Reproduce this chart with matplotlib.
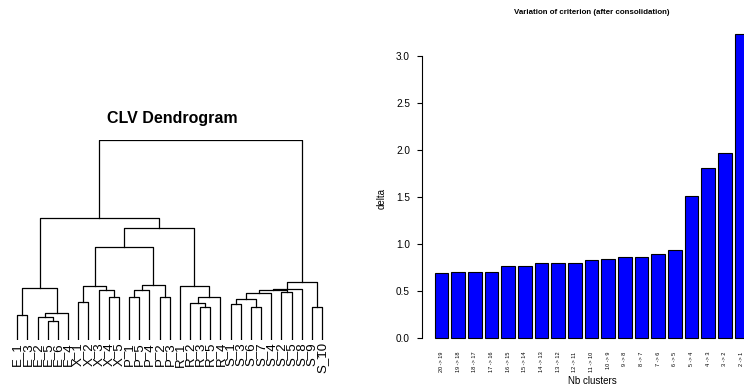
import numpy as np
import matplotlib.pyplot as plt

plt.rcParams['font.family'] = ['Liberation Sans', 'DejaVu Sans']

# --- DATA
leaves = ['E_1', 'E_3', 'E_2', 'E_5', 'E_6', 'E_4',
          'X_1', 'X_2', 'X_3', 'X_4', 'X_5',
          'P_1', 'P_5', 'P_4', 'P_2', 'P_3',
          'R_1', 'R_2', 'R_3', 'R_5', 'R_4',
          'S_1', 'S_3', 'S_6', 'S_7', 'S_4', 'S_2', 'S_5', 'S_8', 'S_9', 'S_10']

# merges: leaf name or index (1-based) of an earlier merge
merge_left = ['E_5', 'E_2', 'E_1', 2, 'R_3', 'S_9', 'S_6', 'S_1', 'R_2', 'X_1',
              8, 'P_1', 'P_2', 'X_4', 9, 11, 'S_2', 12, 'X_3', 16,
              20, 3, 'R_1', 10, 18, 21, 24, 27, 22, 29]
merge_right = ['E_6', 1, 'E_3', 'E_4', 'R_5', 'S_10', 'S_7', 'S_3', 5, 'X_2',
               7, 'P_5', 'P_3', 'X_5', 'R_4', 'S_4', 'S_5', 'P_4', 14, 17,
               'S_8', 4, 15, 19, 13, 6, 25, 23, 28, 26]
merge_height = [0.31, 0.376, 0.40, 0.44, 0.53, 0.53, 0.54, 0.58, 0.59, 0.61,
                0.66, 0.69, 0.70, 0.70, 0.70, 0.76, 0.77, 0.80, 0.80, 0.80,
                0.83, 0.84, 0.865, 0.865, 0.89, 0.94, 1.51, 1.81, 1.97, 3.23]

steps = ['20 -> 19', '19 -> 18', '18 -> 17', '17 -> 16', '16 -> 15', '15 -> 14',
         '14 -> 13', '13 -> 12', '12 -> 11', '11 -> 10', '10 -> 9', '9 -> 8',
         '8 -> 7', '7 -> 6', '6 -> 5', '5 -> 4', '4 -> 3', '3 -> 2', '2 -> 1']
delta = [0.69, 0.70, 0.70, 0.70, 0.76, 0.77, 0.80, 0.80, 0.80, 0.83,
         0.84, 0.865, 0.865, 0.89, 0.94, 1.51, 1.81, 1.97, 3.23]

W, H = 744, 391
fig = plt.figure(figsize=(W / 100, H / 100), dpi=100)

# --- DENDROGRAM
x0, dx = 17.3, 10.16
axd = fig.add_axes([0, (H - 340) / H, 0.5, 200 / H])
axd.set_xlim(-x0 / dx, (372 - x0) / dx)
axd.set_ylim(0, max(merge_height))
axd.axis('off')

pos = {name: (i, 0.0) for i, name in enumerate(leaves)}
nodes = []

def get_node(ref):
    if isinstance(ref, str):
        return pos[ref]
    return nodes[ref - 1]

for a, b, h in zip(merge_left, merge_right, merge_height):
    xa, ya = get_node(a)
    xb, yb = get_node(b)
    axd.plot([xa, xa, xb, xb], [ya, h, h, yb], color='black', lw=0.9)
    nodes.append(((xa + xb) / 2, h))

for i, name in enumerate(leaves):
    axd.annotate(name, (i, 0), xytext=(0, -1.5), textcoords='offset points',
                 rotation=90, ha='center', va='top', fontsize=9.5)

fig.text(172 / W, 1 - 118 / H, 'CLV Dendrogram', ha='center', va='center',
         fontsize=11.5, fontweight='bold')

# --- BAR PLOT
axb = fig.add_axes([422 / W, (H - 350) / H, 339 / W, 327.7 / H])
centers = 0.7 + 1.2 * np.arange(len(delta))
axb.bar(centers, delta, width=1.0, color='#0000ff', edgecolor='black', lw=0.8)
axb.set_xlim(-0.704, 23.704)
axb.set_ylim(-0.129, 3.359)
for s in ['top', 'right', 'bottom']:
    axb.spines[s].set_visible(False)
axb.spines['left'].set_bounds(0, 3.0)
axb.spines['left'].set_linewidth(0.8)
yt = np.arange(0, 3.01, 0.5)
axb.set_yticks(yt, [f'{v:.1f}' for v in yt])
axb.tick_params(axis='y', length=3.6, width=0.8, pad=5, labelsize=7.2)
axb.set_xticks(centers, steps, rotation=90, fontsize=4)
axb.tick_params(axis='x', length=0, pad=1)

fig.text(592 / W, 1 - 12 / H, 'Variation of criterion (after consolidation)',
         ha='center', va='center', fontsize=5.7, fontweight='bold')
fig.text(592 / W, 1 - 381 / H, 'Nb clusters', ha='center', va='center', fontsize=7)
fig.text(382 / W, 1 - 198 / H, 'delta', ha='center', va='center', rotation=90,
         fontsize=7)

fig.savefig('out.png', dpi=100)
